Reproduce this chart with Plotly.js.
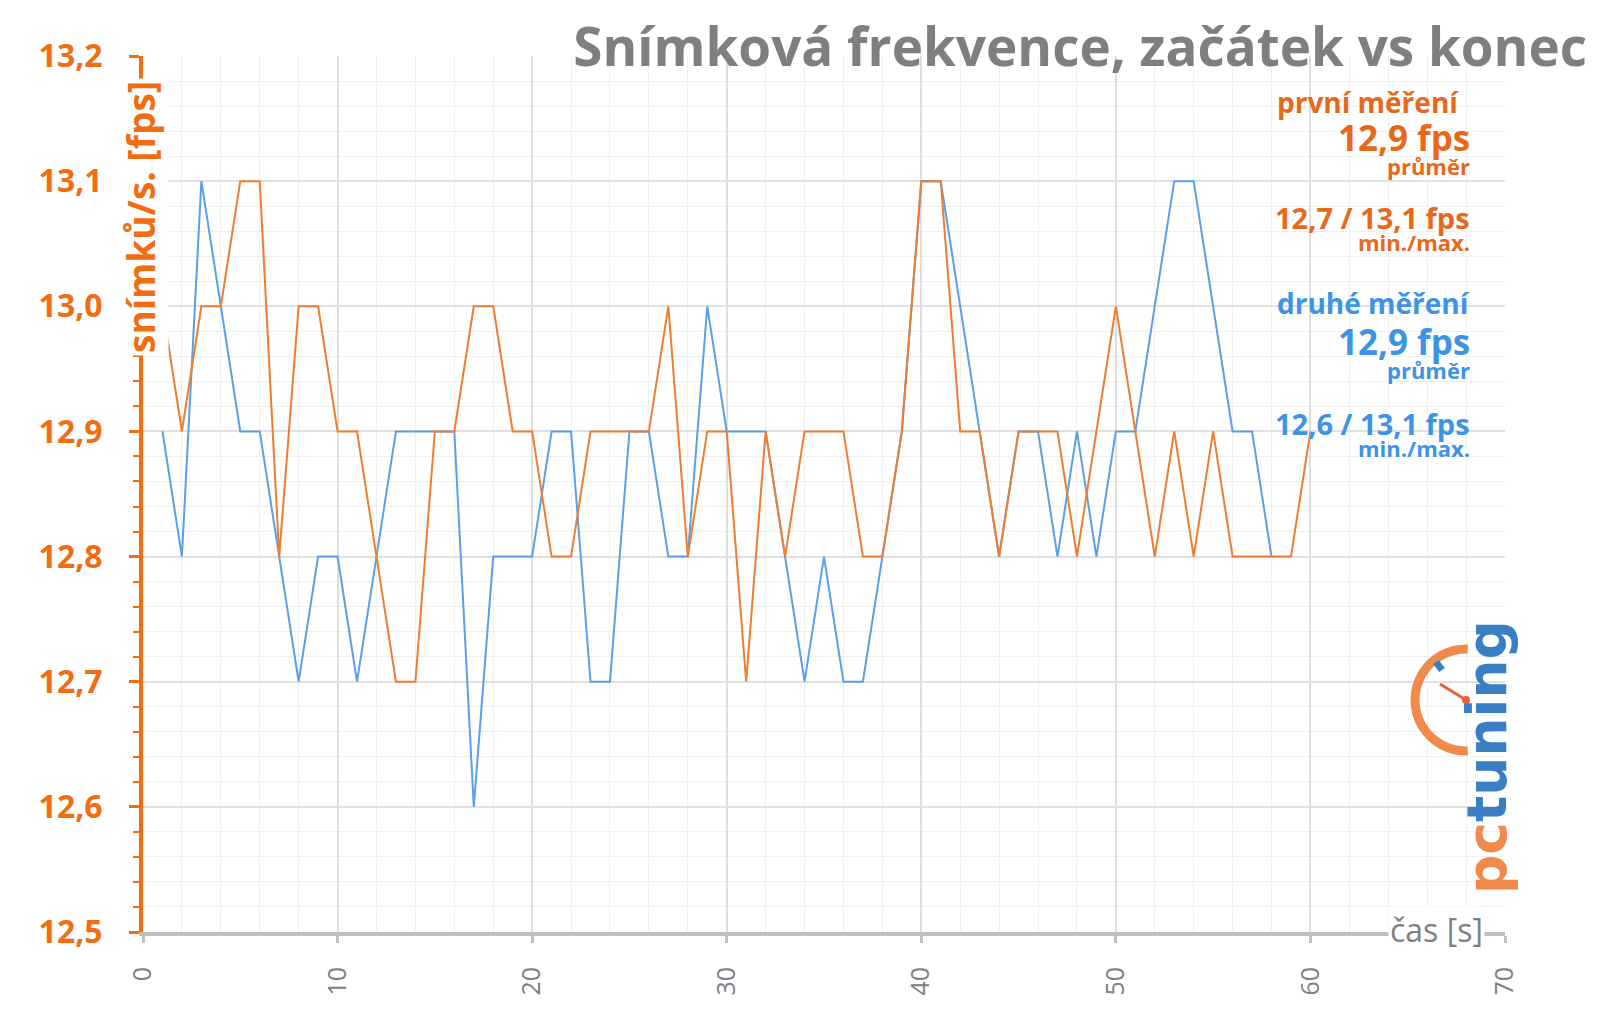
<!DOCTYPE html>
<html>
<head>
<meta charset="utf-8">
<script src="https://cdn.plot.ly/plotly-3.0.1.min.js"></script>
<style>html,body{margin:0;padding:0;background:#fff;}#chart{width:1600px;height:1015px;}</style>
</head>
<body>
<div id="chart"></div>
<script>
// ---- data ----
var seconds1 = [1,2,3,4,5,6,7,8,9,10,11,12,13,14,15,16,17,18,19,20,21,22,23,24,25,26,27,28,29,30,
                31,32,33,34,35,36,37,38,39,40,41,42,43,44,45,46,47,48,49,50,51,52,53,54,55,56,57,58,59,60];
var fps1 = [13.0,12.9,13.0,13.0,13.1,13.1,12.8,13.0,13.0,12.9,12.9,12.8,12.7,12.7,12.9,12.9,13.0,13.0,12.9,12.9,
            12.8,12.8,12.9,12.9,12.9,12.9,13.0,12.8,12.9,12.9,12.7,12.9,12.8,12.9,12.9,12.9,12.8,12.8,12.9,13.1,
            13.1,12.9,12.9,12.8,12.9,12.9,12.9,12.8,12.9,13.0,12.9,12.8,12.9,12.8,12.9,12.8,12.8,12.8,12.8,12.9];
var seconds2 = [1,2,3,4,5,6,7,8,9,10,11,12,13,14,15,16,17,18,19,20,21,22,23,24,25,26,27,28,29,30,
                31,32,33,34,35,36,37,38,39,40,41,42,43,44,45,46,47,48,49,50,51,52,53,54,55,56,57,58];
var fps2 = [12.9,12.8,13.1,13.0,12.9,12.9,12.8,12.7,12.8,12.8,12.7,12.8,12.9,12.9,12.9,12.9,12.6,12.8,12.8,12.8,
            12.9,12.9,12.7,12.7,12.9,12.9,12.8,12.8,13.0,12.9,12.9,12.9,12.8,12.7,12.8,12.7,12.7,12.8,12.9,13.1,
            13.1,13.0,12.9,12.8,12.9,12.9,12.8,12.9,12.8,12.9,12.9,13.0,13.1,13.1,13.0,12.9,12.9,12.8];
var chartTitle = 'Snímková frekvence, začátek vs konec';
var yTitle = 'snímků/s. [fps]';
var xTitle = 'čas [s]';
var series1Name = 'první měření', series1Avg = '12,9 fps', series1MinMax = '12,7 / 13,1 fps';
var series2Name = 'druhé měření', series2Avg = '12,9 fps', series2MinMax = '12,6 / 13,1 fps';
var avgLabel = 'průměr', minMaxLabel = 'min./max.';

// ---- styles ----
var ORANGE_LINE = '#ED7D31', BLUE_LINE = '#5B9FE6';
var ORANGE_TXT = '#E8681A', BLUE_TXT = '#3D94E6', AXIS_ORANGE = '#F26D11';
var GRAY = '#808080';
var FONT = '"Open Sans", "DejaVu Sans", sans-serif';

var L = 143, R = 1505, T = 56, B = 932;
function px(x){ return (x - L) / (R - L); }
function py(y){ return (B - y) / (B - T); }

var traces = [
  {x: seconds2, y: fps2, type: 'scatter', mode: 'lines', line: {color: BLUE_LINE, width: 2}, hoverinfo: 'x+y'},
  {x: seconds1, y: fps1, type: 'scatter', mode: 'lines', line: {color: ORANGE_LINE, width: 2}, hoverinfo: 'x+y'}
];

function ann(text, xp, yp, size, color){
  return {text: text, x: px(xp), y: py(yp), xref: 'paper', yref: 'paper', xanchor: 'right', yanchor: 'middle',
          showarrow: false, borderpad: 0, font: {family: FONT, size: size, color: color, weight: 'bold'}};
}

var annotations = [
  ann(series1Name, 1460, 102, 28, ORANGE_TXT),
  ann(series1Avg, 1471, 138, 35, ORANGE_TXT),
  ann(avgLabel, 1471, 166, 22, ORANGE_TXT),
  ann(series1MinMax, 1471, 217, 29, ORANGE_TXT),
  ann(minMaxLabel, 1471, 242, 22, ORANGE_TXT),
  ann(series2Name, 1471, 303, 28, BLUE_TXT),
  ann(series2Avg, 1471, 341, 35, BLUE_TXT),
  ann(avgLabel, 1471, 370, 22, BLUE_TXT),
  ann(series2MinMax, 1471, 423, 29, BLUE_TXT),
  ann(minMaxLabel, 1471, 448, 22, BLUE_TXT),
  // y-axis title, drawn over the axis line
  {text: yTitle, x: px(140), y: py(217), xref: 'paper', yref: 'paper', xanchor: 'center', yanchor: 'middle',
   textangle: -90, showarrow: false, bgcolor: '#ffffff', borderpad: 2,
   font: {family: FONT, size: 37, color: AXIS_ORANGE, weight: 'bold'}},
  // x-axis title
  {text: xTitle, x: px(1436), y: py(929), xref: 'paper', yref: 'paper', xanchor: 'center', yanchor: 'middle',
   showarrow: false, bgcolor: '#ffffff', borderpad: 1,
   font: {family: FONT, size: 32, color: GRAY}},
  // logo
  {text: '<span style="color:#F08A4B">pc</span><span style="color:#3A7FC4">tuning</span>',
   x: px(1487), y: py(757), xref: 'paper', yref: 'paper', xanchor: 'center', yanchor: 'middle',
   textangle: -90, showarrow: false, font: {family: '"DejaVu Sans", sans-serif', size: 55, weight: 'bold', color: '#3A7FC4'}}
];

// gauge arc of the logo, pixel path relative to an anchor
function arcPath(r, a0, a1, n){
  var d = '', step = (a1 - a0) / n;
  for (var i = 0; i < n; i++){
    var s = (a0 + i*step) * Math.PI/180, e = (a0 + (i+1)*step) * Math.PI/180;
    var k = 4/3 * Math.tan((e - s)/4);
    var x0 = r*Math.cos(s), y0 = r*Math.sin(s), x3 = r*Math.cos(e), y3 = r*Math.sin(e);
    var x1 = x0 - k*y0, y1 = y0 + k*x0, x2 = x3 + k*y3, y2 = y3 - k*x3;
    if (i === 0) d += 'M' + x0.toFixed(2) + ',' + y0.toFixed(2);
    d += ' C' + x1.toFixed(2) + ',' + y1.toFixed(2) + ' ' + x2.toFixed(2) + ',' + y2.toFixed(2) + ' ' + x3.toFixed(2) + ',' + y3.toFixed(2);
  }
  return d;
}
var gx = px(1466), gy = py(700);
var shapes = [
  {type: 'path', xref: 'paper', yref: 'paper', xsizemode: 'pixel', ysizemode: 'pixel', xanchor: gx, yanchor: gy,
   path: arcPath(51, 88, 272, 6), line: {color: '#F0894C', width: 9}},
  {type: 'path', xref: 'paper', yref: 'paper', xsizemode: 'pixel', ysizemode: 'pixel', xanchor: gx, yanchor: gy,
   path: 'M0,0 L-26,16', line: {color: '#E8603C', width: 3}},
  {type: 'circle', xref: 'paper', yref: 'paper', xsizemode: 'pixel', ysizemode: 'pixel', xanchor: gx, yanchor: gy,
   x0: -4, x1: 4, y0: -4, y1: 4, fillcolor: '#E8603C', line: {width: 0}},
  {type: 'path', xref: 'paper', yref: 'paper', xsizemode: 'pixel', ysizemode: 'pixel', xanchor: gx, yanchor: gy,
   path: 'M-24,30 L-30,38', line: {color: '#3A7FC4', width: 7}}
];

var layout = {
  width: 1600, height: 1015,
  margin: {l: L, r: 1600 - R, t: T, b: 1015 - B, pad: 0},
  paper_bgcolor: '#ffffff', plot_bgcolor: '#ffffff',
  showlegend: false,
  separators: ', ',
  title: {text: chartTitle, x: 1587/1600, xanchor: 'right', xref: 'container', yref: 'container',
          y: 1 - 47/1015, yanchor: 'middle', font: {family: FONT, size: 53, color: '#7F7F7F', weight: 'bold'}},
  xaxis: {
    range: [0, 70], dtick: 10, tick0: 0, zeroline: false,
    showline: true, linecolor: '#BFBFBF', linewidth: 4,
    ticks: 'outside', ticklen: 7, tickwidth: 3, tickcolor: '#BFBFBF',
    tickangle: -90, ticklabelstandoff: 14,
    tickfont: {family: FONT, size: 25, color: GRAY},
    showgrid: true, gridcolor: '#DEDEDE', gridwidth: 2,
    minor: {dtick: 2, showgrid: true, gridcolor: '#F0F0F0', gridwidth: 1, ticks: ''}
  },
  yaxis: {
    range: [12.5, 13.2], dtick: 0.1, tick0: 12.5, tickformat: '.1f', zeroline: false,
    showline: true, linecolor: AXIS_ORANGE, linewidth: 4,
    ticks: 'outside', ticklen: 10, tickwidth: 3, tickcolor: AXIS_ORANGE,
    ticklabelstandoff: 20,
    tickfont: {family: FONT, size: 32, color: AXIS_ORANGE, weight: 'bold'},
    showgrid: true, gridcolor: '#E0E0E0', gridwidth: 2,
    minor: {dtick: 0.02, showgrid: true, gridcolor: '#F0F0F0', gridwidth: 1, ticks: 'outside', ticklen: 6, tickwidth: 2, tickcolor: AXIS_ORANGE}
  },
  yaxis2: {
    overlaying: 'y', side: 'left', anchor: 'x', range: [12.5, 13.2], dtick: 0.1, tick0: 12.5,
    showline: false, zeroline: false, showgrid: false, showticklabels: false,
    ticks: 'inside', ticklen: 10, tickwidth: 3, tickcolor: AXIS_ORANGE
  },
  annotations: annotations,
  shapes: shapes
};

Plotly.newPlot('chart', traces, layout, {displayModeBar: false, staticPlot: true});
</script>
</body>
</html>
